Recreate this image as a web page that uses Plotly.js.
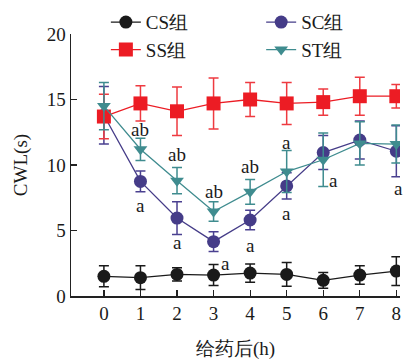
<!DOCTYPE html>
<html>
<head>
<meta charset="utf-8">
<script src="https://cdn.plot.ly/plotly-3.0.1.min.js"></script>
<style>html,body{margin:0;padding:0;background:#fff;}#chart{width:403px;height:360px;}</style>
</head>
<body>
<div id="chart"></div>
<script>
const hours = [0, 1, 2, 3, 4, 5, 6, 7, 8];
const csMean = [1.5, 1.4, 1.65, 1.6, 1.75, 1.65, 1.2, 1.6, 1.9];
const csErr  = [0.8, 0.9, 0.5, 0.8, 0.7, 0.9, 0.6, 0.7, 1.1];
const scMean = [13.8, 8.75, 5.95, 4.15, 5.8, 8.4, 10.95, 11.9, 11.05];
const scErr  = [2.2, 0.8, 1.25, 0.75, 0.75, 1.0, 1.3, 1.45, 1.95];
const ssMean = [13.7, 14.7, 14.1, 14.7, 15.0, 14.7, 14.8, 15.25, 15.25];
const ssErr  = [1.7, 1.35, 1.85, 1.95, 1.3, 1.6, 1.0, 1.45, 0.9];
const stMean = [14.5, 11.2, 8.8, 6.45, 7.95, 9.5, 10.4, 11.65, 11.6];
const stErr  = [1.8, 0.85, 1.0, 0.75, 0.95, 1.6, 2.05, 1.65, 1.45];
const groupNames = ['CS组', 'SC组', 'SS组', 'ST组'];
const sigText = ['ab', 'a', 'ab', 'a', 'ab', 'a', 'ab', 'a', 'a', 'a', 'a', 'a'];
const sigX    = [1, 1, 2, 2, 3, 3.33, 4, 4, 5, 5, 6.27, 8.05];
const sigY    = [12.7, 6.9, 10.8, 4.1, 8.0, 2.5, 9.85, 3.86, 11.7, 6.3, 8.8, 8.2];

const serif = 'Liberation Serif';

function trace(name, y, err, color, errColor, symbol, size, legend) {
  return {
    x: hours, y: y, name: name, type: 'scatter', mode: 'lines+markers',
    line: {color: color, width: 1.3},
    marker: {color: color, symbol: symbol, size: size},
    error_y: {type: 'data', array: err, visible: true, color: errColor, thickness: 1.5, width: 5},
    legend: legend
  };
}

const data = [
  trace(groupNames[0], csMean, csErr, '#1a1a1a', '#1a1a1a', 'circle', 13, 'legend'),
  trace(groupNames[1], scMean, scErr, '#453c88', '#4a4090', 'circle', 13, 'legend2'),
  trace(groupNames[2], ssMean, ssErr, '#ec1c24', '#ee3a40', 'square', 14, 'legend3'),
  trace(groupNames[3], stMean, stErr, '#3f8c8f', '#3f8c8f', 'triangle-down', 12, 'legend4')
];

const annotations = sigText.map((t, i) => ({
  x: sigX[i], y: sigY[i], text: t, showarrow: false, xref: 'x', yref: 'y',
  font: {family: serif, size: 19, color: '#1a1a1a'}
}));

const legendCommon = {
  font: {family: serif, size: 19, color: '#1a1a1a'},
  bgcolor: 'rgba(0,0,0,0)', borderwidth: 0,
  xanchor: 'left', yanchor: 'middle', itemwidth: 30
};

const layout = {
  width: 403, height: 360,
  margin: {l: 71, r: 3, t: 32, b: 64},
  paper_bgcolor: '#fff', plot_bgcolor: '#fff',
  showlegend: true,
  legend:  Object.assign({}, legendCommon, {x: 0.106, y: 1.045}),
  legend2: Object.assign({}, legendCommon, {x: 0.578, y: 1.045}),
  legend3: Object.assign({}, legendCommon, {x: 0.106, y: 0.94}),
  legend4: Object.assign({}, legendCommon, {x: 0.578, y: 0.94}),
  xaxis: {
    range: [-0.9, 8.1], tickvals: hours, ticktext: hours.map(String),
    ticks: 'inside', ticklen: 6, tickwidth: 1.2, tickcolor: '#222',
    showline: true, linecolor: '#222', linewidth: 1.5, mirror: false,
    showgrid: false, zeroline: false,
    tickfont: {family: serif, size: 19, color: '#1a1a1a'},
    title: {text: '给药后(h)', font: {family: serif, size: 19, color: '#1a1a1a'}, standoff: 18}
  },
  yaxis: {
    range: [0, 20], tickvals: [0, 5, 10, 15, 20],
    ticks: 'inside', ticklen: 6, tickwidth: 1.2, tickcolor: '#222',
    showline: true, linecolor: '#222', linewidth: 1.5, mirror: false,
    showgrid: false, zeroline: false,
    tickfont: {family: serif, size: 19, color: '#1a1a1a'},
    title: {text: 'CWL(s)', font: {family: serif, size: 19, color: '#1a1a1a'}, standoff: 14}
  },
  annotations: annotations
};

Plotly.newPlot('chart', data, layout, {displayModeBar: false, staticPlot: true});
</script>
</body>
</html>
